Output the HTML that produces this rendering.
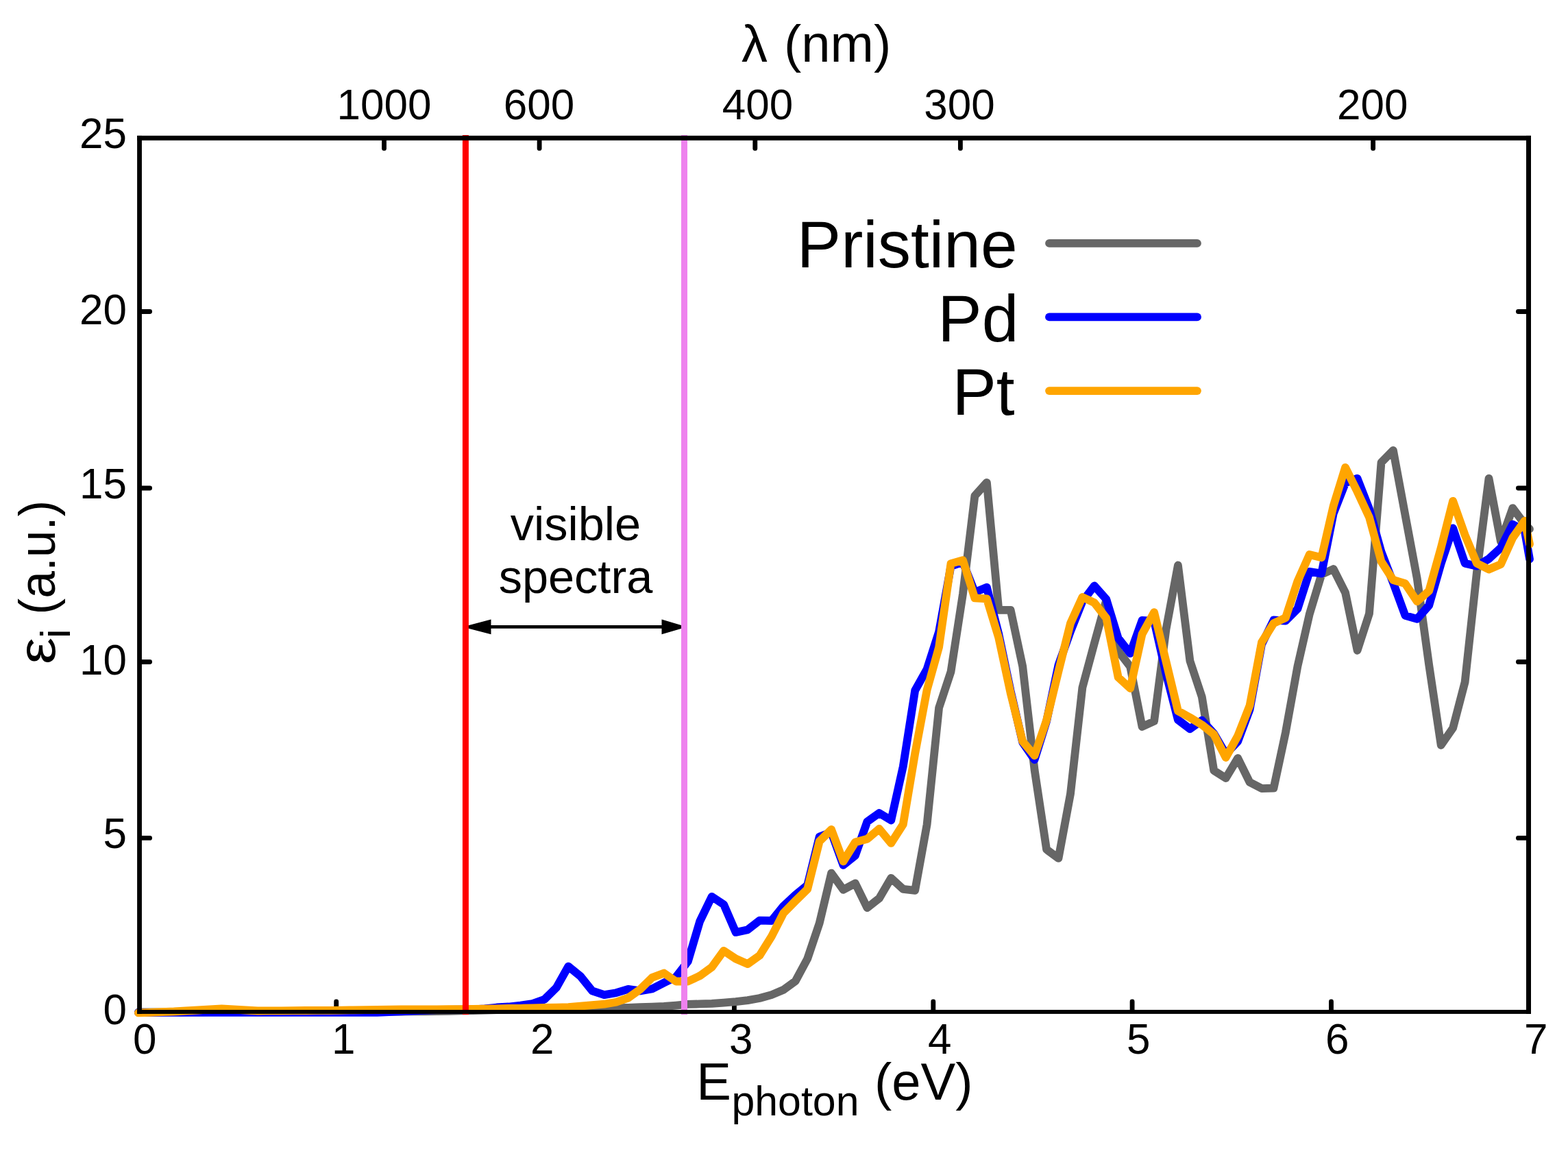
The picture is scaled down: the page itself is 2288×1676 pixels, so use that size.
<!DOCTYPE html>
<html lang="en"><head><meta charset="utf-8"><title>Imaginary dielectric function</title>
<style>html,body{margin:0;padding:0;background:#fff;}svg{display:block;}text{font-family:"Liberation Sans", sans-serif;fill:#000;}</style>
</head><body>
<svg width="2288" height="1676" viewBox="0 0 2288 1676" role="img" aria-label="Imaginary part of the dielectric function versus photon energy for pristine, Pd and Pt systems">
<rect x="0" y="0" width="2288" height="1676" fill="#fff"/>
<g stroke="#000" stroke-width="6.85" stroke-linecap="round" fill="none">
<line x1="490.7" y1="1474.0" x2="490.7" y2="1460.9"/>
<line x1="781.0" y1="1474.0" x2="781.0" y2="1460.9"/>
<line x1="1071.4" y1="1474.0" x2="1071.4" y2="1460.9"/>
<line x1="1361.8" y1="1474.0" x2="1361.8" y2="1460.9"/>
<line x1="1652.1" y1="1474.0" x2="1652.1" y2="1460.9"/>
<line x1="1942.5" y1="1474.0" x2="1942.5" y2="1460.9"/>
<line x1="560.5" y1="203.4" x2="560.5" y2="216.4"/>
<line x1="787.1" y1="203.4" x2="787.1" y2="216.4"/>
<line x1="1101.8" y1="203.4" x2="1101.8" y2="216.4"/>
<line x1="1401.4" y1="203.4" x2="1401.4" y2="216.4"/>
<line x1="2003.6" y1="203.4" x2="2003.6" y2="216.4"/>
<line x1="205.5" y1="1222.4" x2="218.6" y2="1222.4"/>
<line x1="2228.5" y1="1222.4" x2="2215.4" y2="1222.4"/>
<line x1="205.5" y1="965.5" x2="218.6" y2="965.5"/>
<line x1="2228.5" y1="965.5" x2="2215.4" y2="965.5"/>
<line x1="205.5" y1="712.0" x2="218.6" y2="712.0"/>
<line x1="2228.5" y1="712.0" x2="2215.4" y2="712.0"/>
<line x1="205.5" y1="454.5" x2="218.6" y2="454.5"/>
<line x1="2228.5" y1="454.5" x2="2215.4" y2="454.5"/>
</g>
<g fill="none" stroke-width="11.8" stroke-linejoin="round" stroke-linecap="round">
<polyline points="201.9,1476.5 218.8,1476.5 236.3,1476.4 253.7,1476.4 271.2,1476.3 288.6,1476.3 306.1,1476.2 323.5,1476.2 340.9,1476.2 358.4,1476.1 375.8,1476.1 393.3,1476.0 410.7,1476.0 428.2,1475.9 445.6,1475.9 463.0,1475.9 480.5,1475.8 497.9,1475.8 515.4,1475.7 532.8,1475.7 550.3,1475.6 567.7,1475.6 585.1,1475.5 602.6,1475.4 620.0,1475.3 637.5,1475.2 654.9,1474.8 672.4,1474.4 689.8,1474.0 707.2,1473.6 724.7,1473.2 742.1,1472.9 759.6,1472.7 777.0,1472.4 794.5,1472.1 811.9,1471.8 829.3,1471.5 846.8,1471.2 864.2,1470.8 881.7,1470.5 899.1,1470.1 916.6,1469.8 934.0,1469.2 951.4,1468.6 968.9,1468.0 986.3,1466.6 1003.8,1464.9 1021.2,1464.4 1038.7,1463.9 1056.1,1462.6 1073.6,1461.2 1091.0,1459.1 1108.4,1456.0 1125.9,1451.1 1143.3,1443.8 1160.8,1430.9 1178.2,1398.5 1195.7,1346.6 1213.1,1273.6 1230.5,1297.7 1248.0,1288.5 1265.4,1324.2 1282.9,1310.4 1300.3,1280.8 1317.8,1296.8 1335.2,1298.8 1352.6,1202.7 1370.1,1032.5 1387.5,979.9 1405.0,866.3 1422.4,723.3 1439.9,703.8 1457.3,889.9 1474.7,889.9 1492.2,971.9 1509.6,1123.2 1527.1,1239.1 1544.5,1251.9 1562.0,1157.9 1579.4,1003.0 1596.8,938.5 1614.3,875.2 1631.7,949.7 1649.2,972.3 1666.6,1060.0 1684.1,1052.0 1701.5,918.0 1718.9,824.5 1736.4,964.0 1753.8,1016.5 1771.3,1124.0 1788.7,1135.0 1806.2,1105.9 1823.6,1141.1 1841.0,1150.1 1858.5,1149.7 1875.9,1068.4 1893.4,972.0 1910.8,895.8 1928.3,838.0 1945.7,830.0 1963.1,864.5 1980.6,948.8 1998.0,895.0 2015.5,674.6 2032.9,656.9 2050.4,751.0 2067.8,844.0 2085.2,970.0 2102.7,1087.0 2120.1,1062.0 2137.6,995.0 2155.0,834.4 2172.5,697.8 2189.9,789.8 2207.3,741.1 2224.8,764.5 2232.0,771.7" stroke="#666666"/>
<polyline points="201.9,1476.9 218.8,1476.9 236.3,1476.9 253.7,1476.9 271.2,1476.9 288.6,1476.9 306.1,1476.9 323.5,1476.9 340.9,1476.9 358.4,1476.9 375.8,1476.9 393.3,1476.9 410.7,1476.9 428.2,1476.9 445.6,1476.9 463.0,1476.9 480.5,1476.9 497.9,1476.9 515.4,1476.9 532.8,1476.9 550.3,1476.9 567.7,1476.2 585.1,1475.4 602.6,1474.7 620.0,1473.9 637.5,1473.2 654.9,1472.9 672.4,1472.6 689.8,1472.3 707.2,1471.3 724.7,1469.5 742.1,1468.5 759.6,1466.6 777.0,1464.0 794.5,1457.7 811.9,1440.6 829.3,1409.7 846.8,1423.8 864.2,1445.4 881.7,1451.1 899.1,1448.2 916.6,1442.9 934.0,1445.4 951.4,1442.5 968.9,1433.5 986.3,1425.0 1003.8,1402.5 1021.2,1343.9 1038.7,1307.8 1056.1,1319.3 1073.6,1359.9 1091.0,1356.2 1108.4,1342.6 1125.9,1343.0 1143.3,1321.5 1160.8,1305.3 1178.2,1291.2 1195.7,1220.5 1213.1,1214.0 1230.5,1261.9 1248.0,1247.8 1265.4,1198.5 1282.9,1186.0 1300.3,1196.5 1317.8,1118.0 1335.2,1007.2 1352.6,976.1 1370.1,921.5 1387.5,826.0 1405.0,820.0 1422.4,863.9 1439.9,856.7 1457.3,925.0 1474.7,1008.0 1492.2,1083.0 1509.6,1108.1 1527.1,1052.0 1544.5,970.0 1562.0,921.0 1579.4,877.5 1596.8,854.5 1614.3,874.2 1631.7,930.9 1649.2,953.2 1666.6,904.8 1684.1,905.8 1701.5,982.4 1718.9,1050.0 1736.4,1063.3 1753.8,1050.7 1771.3,1069.9 1788.7,1100.0 1806.2,1081.5 1823.6,1035.0 1841.0,940.0 1858.5,904.5 1875.9,905.7 1893.4,888.1 1910.8,833.9 1928.3,836.6 1945.7,749.0 1963.1,704.6 1980.6,697.8 1998.0,742.5 2015.5,805.0 2032.9,850.0 2050.4,897.8 2067.8,902.9 2085.2,883.0 2102.7,822.0 2120.1,770.3 2137.6,821.7 2155.0,825.7 2172.5,815.1 2189.9,799.1 2207.3,764.8 2224.8,774.5 2232.0,815.6" stroke="#0000ff"/>
<polyline points="201.9,1477.4 218.8,1476.8 236.3,1476.1 253.7,1475.5 271.2,1474.5 288.6,1473.5 306.1,1472.4 323.5,1471.4 340.9,1472.4 358.4,1473.5 375.8,1474.5 393.3,1474.4 410.7,1474.3 428.2,1474.2 445.6,1474.0 463.0,1473.9 480.5,1473.8 497.9,1473.6 515.4,1473.3 532.8,1473.1 550.3,1472.8 567.7,1472.6 585.1,1472.5 602.6,1472.4 620.0,1472.3 637.5,1472.3 654.9,1472.2 672.4,1472.1 689.8,1471.8 707.2,1471.6 724.7,1471.3 742.1,1471.0 759.6,1470.8 777.0,1470.5 794.5,1470.0 811.9,1469.6 829.3,1469.1 846.8,1467.7 864.2,1466.2 881.7,1464.7 899.1,1461.8 916.6,1455.6 934.0,1443.2 951.4,1426.1 968.9,1419.5 986.3,1431.5 1003.8,1431.5 1021.2,1423.4 1038.7,1410.7 1056.1,1386.8 1073.6,1398.5 1091.0,1406.1 1108.4,1393.8 1125.9,1365.9 1143.3,1331.8 1160.8,1314.0 1178.2,1297.0 1195.7,1227.2 1213.1,1210.0 1230.5,1256.5 1248.0,1228.5 1265.4,1223.8 1282.9,1209.0 1300.3,1229.9 1317.8,1202.5 1335.2,1099.0 1352.6,1006.5 1370.1,944.0 1387.5,822.2 1405.0,817.2 1422.4,872.4 1439.9,873.3 1457.3,930.4 1474.7,1011.2 1492.2,1081.5 1509.6,1102.1 1527.1,1050.7 1544.5,979.1 1562.0,909.2 1579.4,871.0 1596.8,879.2 1614.3,901.6 1631.7,988.0 1649.2,1004.0 1666.6,924.8 1684.1,893.1 1701.5,965.0 1718.9,1037.0 1736.4,1046.6 1753.8,1057.2 1771.3,1071.2 1788.7,1105.0 1806.2,1073.4 1823.6,1029.2 1841.0,937.0 1858.5,909.1 1875.9,901.1 1893.4,847.9 1910.8,809.0 1928.3,813.3 1945.7,738.0 1963.1,681.8 1980.6,717.2 1998.0,754.5 2015.5,819.0 2032.9,846.0 2050.4,851.2 2067.8,877.3 2085.2,861.9 2102.7,799.1 2120.1,730.8 2137.6,780.2 2155.0,821.7 2172.5,830.5 2189.9,823.1 2207.3,784.5 2224.8,759.7 2232.0,793.7" stroke="#ffa500"/>
</g>
<g stroke-width="11.8" stroke-linecap="round" fill="none">
<line x1="1531" y1="354.9" x2="1747" y2="354.9" stroke="#666666"/>
<line x1="1531" y1="462.4" x2="1747" y2="462.4" stroke="#0000ff"/>
<line x1="1531" y1="570.1" x2="1747" y2="570.1" stroke="#ffa500"/>
</g>
<g fill="#000" stroke="#000" stroke-linejoin="miter">
<line x1="700" y1="914.4" x2="980" y2="914.4" stroke-width="4.8"/>
<polygon points="681,914.4 715,905.5 715,923.3" stroke-width="3"/>
<polygon points="997,914.4 967,905.5 967,923.3" stroke-width="3"/>
</g>
<line x1="679.4" y1="196.9" x2="679.4" y2="1480.1" stroke="#ff0000" stroke-width="9"/>
<line x1="998.5" y1="196.9" x2="998.5" y2="1480.1" stroke="#ee82ee" stroke-width="9"/>
<g fill="#000">
<rect x="200.10" y="197.90" width="2033.90" height="6.90"/>
<rect x="200.10" y="1473.00" width="2033.90" height="5.90"/>
<rect x="200.10" y="197.90" width="6.85" height="1281.00"/>
<rect x="2227.00" y="197.90" width="7.00" height="1281.00"/>
</g>
<text transform="translate(185.0,1493.9) scale(1,1.020)" font-size="62.0" text-anchor="end">0</text>
<text transform="translate(185.0,1237.3) scale(1,1.020)" font-size="62.0" text-anchor="end">5</text>
<text transform="translate(185.0,983.9) scale(1,1.020)" font-size="62.0" text-anchor="end">10</text>
<text transform="translate(185.0,726.9) scale(1,1.020)" font-size="62.0" text-anchor="end">15</text>
<text transform="translate(185.0,472.9) scale(1,1.020)" font-size="62.0" text-anchor="end">20</text>
<text transform="translate(185.0,215.9) scale(1,1.020)" font-size="62.0" text-anchor="end">25</text>
<text transform="translate(211.2,1537.3) scale(1,1.020)" font-size="62.0" text-anchor="middle">0</text>
<text transform="translate(501.2,1537.3) scale(1,1.020)" font-size="62.0" text-anchor="middle">1</text>
<text transform="translate(791.2,1537.3) scale(1,1.020)" font-size="62.0" text-anchor="middle">2</text>
<text transform="translate(1081.2,1537.3) scale(1,1.020)" font-size="62.0" text-anchor="middle">3</text>
<text transform="translate(1371.2,1537.3) scale(1,1.020)" font-size="62.0" text-anchor="middle">4</text>
<text transform="translate(1661.2,1537.3) scale(1,1.020)" font-size="62.0" text-anchor="middle">5</text>
<text transform="translate(1951.2,1537.3) scale(1,1.020)" font-size="62.0" text-anchor="middle">6</text>
<text transform="translate(2241.2,1537.3) scale(1,1.020)" font-size="62.0" text-anchor="middle">7</text>
<text transform="translate(560.5,174.1) scale(1,1.020)" font-size="62.0" text-anchor="middle">1000</text>
<text transform="translate(786.4,174.1) scale(1,1.020)" font-size="62.0" text-anchor="middle">600</text>
<text transform="translate(1105.4,174.1) scale(1,1.020)" font-size="62.0" text-anchor="middle">400</text>
<text transform="translate(1399.9,174.1) scale(1,1.020)" font-size="62.0" text-anchor="middle">300</text>
<text transform="translate(2002.7,174.1) scale(1,1.020)" font-size="62.0" text-anchor="middle">200</text>
<text x="1082" y="90" font-size="76.0">λ<tspan dx="2.9"> (nm)</tspan></text>
<text x="1016.2" y="1604.2" font-size="76.0">E<tspan font-size="60.8" dx="0.6" dy="22.9">photon</tspan><tspan dx="1.4" dy="-22.9"> (eV)</tspan></text>
<text transform="translate(79.9,969.0) rotate(-90) scale(1.16,1)" font-size="76.0">ε</text>
<text transform="translate(102.1,931.0) rotate(-90)" font-size="60.8">i</text>
<text transform="translate(79.9,896.5) rotate(-90) scale(0.94,0.97)" font-size="76.0">(a.u.)</text>
<text x="1484.6" y="390.1" font-size="96.5" text-anchor="end">Pristine</text>
<text x="1486.4" y="497.8" font-size="96.5" text-anchor="end">Pd</text>
<text x="1480.6" y="604.6" font-size="96.5" text-anchor="end">Pt</text>
<text x="840.0" y="787.8" font-size="68.5" text-anchor="middle">visible</text>
<text x="840.0" y="865.0" font-size="68.5" text-anchor="middle">spectra</text>
</svg>
</body></html>
